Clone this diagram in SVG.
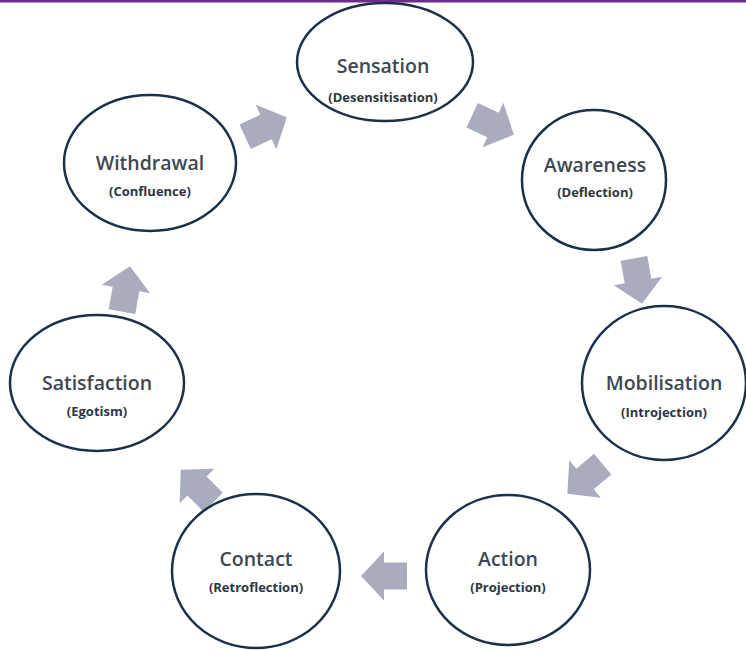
<svg xmlns="http://www.w3.org/2000/svg" width="746" height="650" viewBox="0 0 746 650">
  <style>
    .node ellipse { fill: #ffffff; stroke: #1c3149; stroke-width: 2.5; }
    .title { font-family: "Open Sans", "Liberation Sans", sans-serif; font-size: 19.5px; font-weight: 600; fill: #3d4753; text-anchor: middle; }
    .sub { font-family: "Open Sans", "Liberation Sans", sans-serif; font-size: 13px; font-weight: bold; fill: #2c3642; text-anchor: middle; }
    .flow { fill: #a8acbe; }
  </style>
  <defs>
    <!-- block arrow pointing along +x, centred on the origin -->
    <polygon id="blockArrow" points="-23,-13.5 0,-13.5 0,-24.5 23,0 0,24.5 0,13.5 -23,13.5"/>
  </defs>

  <rect x="0" y="0" width="746" height="650" fill="#ffffff"/>
  <rect x="0" y="0" width="746" height="2.5" fill="#6b2c8b"/>

  <g id="connectors" class="flow">
    <use href="#blockArrow" transform="translate(266,127) rotate(-25)"/>
    <use href="#blockArrow" transform="translate(493,125) rotate(25)"/>
    <use href="#blockArrow" transform="translate(638,281) rotate(80)"/>
    <use href="#blockArrow" transform="translate(585,479) rotate(140)"/>
    <use href="#blockArrow" transform="translate(384,576) rotate(180)"/>
    <use href="#blockArrow" transform="translate(197,486) rotate(225)"/>
    <use href="#blockArrow" transform="translate(126,289) rotate(-80)"/>
  </g>

  <g id="sensation" class="node">
    <ellipse cx="385" cy="62" rx="88" ry="59"/>
    <text class="title" x="383" y="73">Sensation</text>
    <text class="sub" x="383" y="102">(Desensitisation)</text>
  </g>

  <g id="awareness" class="node">
    <ellipse cx="594" cy="180" rx="72" ry="70"/>
    <text class="title" x="595" y="172">Awareness</text>
    <text class="sub" x="595" y="197">(Deflection)</text>
  </g>

  <g id="mobilisation" class="node">
    <ellipse cx="664" cy="383" rx="82" ry="77"/>
    <text class="title" x="664" y="390">Mobilisation</text>
    <text class="sub" x="664" y="417">(Introjection)</text>
  </g>

  <g id="action" class="node">
    <ellipse cx="508" cy="570" rx="82" ry="75"/>
    <text class="title" x="508" y="566">Action</text>
    <text class="sub" x="508" y="592">(Projection)</text>
  </g>

  <g id="contact" class="node">
    <ellipse cx="256" cy="571" rx="84" ry="77"/>
    <text class="title" x="256" y="566">Contact</text>
    <text class="sub" x="256" y="592">(Retroflection)</text>
  </g>

  <g id="satisfaction" class="node">
    <ellipse cx="97" cy="383" rx="87" ry="68"/>
    <text class="title" x="97" y="390">Satisfaction</text>
    <text class="sub" x="97" y="416">(Egotism)</text>
  </g>

  <g id="withdrawal" class="node">
    <ellipse cx="150" cy="163" rx="86" ry="68"/>
    <text class="title" x="150" y="170">Withdrawal</text>
    <text class="sub" x="150" y="196">(Confluence)</text>
  </g>
</svg>
